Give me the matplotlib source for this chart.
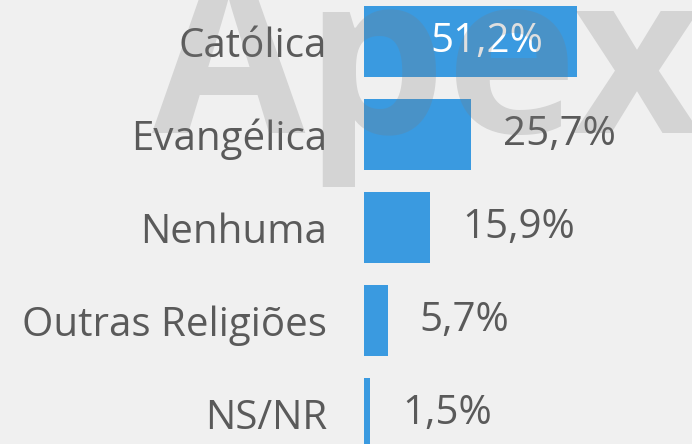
import matplotlib
matplotlib.use("Agg")
import matplotlib.pyplot as plt

categories = ["Católica", "Evangélica", "Nenhuma", "Outras Religiões", "NS/NR"]
values = [51.2, 25.7, 15.9, 5.7, 1.5]
value_labels = ["51,2%", "25,7%", "15,9%", "5,7%", "1,5%"]

W, H, DPI = 692, 444, 100
BG = "#f0f0f0"
BAR = "#3a9ae0"
TXT = "#5a5a5a"
FONT = ["Open Sans", "DejaVu Sans"]
PX = 72 / DPI  # points per pixel
FS = 29

fig = plt.figure(figsize=(W / DPI, H / DPI), dpi=DPI, facecolor=BG)
ax = fig.add_axes([0, 0, 1, 1], facecolor=BG)

x0_px = 364
scale = 4.16  # px per unit
ax.set_xlim(-x0_px / scale, (W - x0_px) / scale)
step = 93.0
c0 = 41.5
ax.set_ylim((H - c0) / step, -c0 / step)

ypos = list(range(len(categories)))
ax.barh(ypos, values, height=71 / step, color=BAR, zorder=2)

ax.spines["left"].set_position(("data", 0))
ax.set_yticks(ypos)
ax.set_yticklabels(categories, fontsize=FS, color=TXT, family=FONT)
ax.tick_params(axis="y", length=0, pad=37 * PX)
ax.set_xticks([])
for s in ax.spines.values():
    s.set_visible(False)

for i, (v, lab) in enumerate(zip(values, value_labels)):
    if i == 0:
        ax.annotate(lab, (v, i), xytext=(-34 * PX, 0), textcoords="offset points",
                    ha="right", va="center", fontsize=FS, color="white", family=FONT, zorder=3)
    else:
        ax.annotate(lab, (v, i), xytext=(32 * PX, 0), textcoords="offset points",
                    ha="left", va="center", fontsize=FS, color=TXT, family=FONT, zorder=3)

# watermark
fig.text(152 / W, 1 - 133 / H, "Apex", fontsize=160, fontweight="bold", family=FONT,
         color="#7b7b7b", alpha=0.24, ha="left", va="baseline", zorder=10)

fig.savefig("out.png", dpi=DPI, facecolor=BG)
